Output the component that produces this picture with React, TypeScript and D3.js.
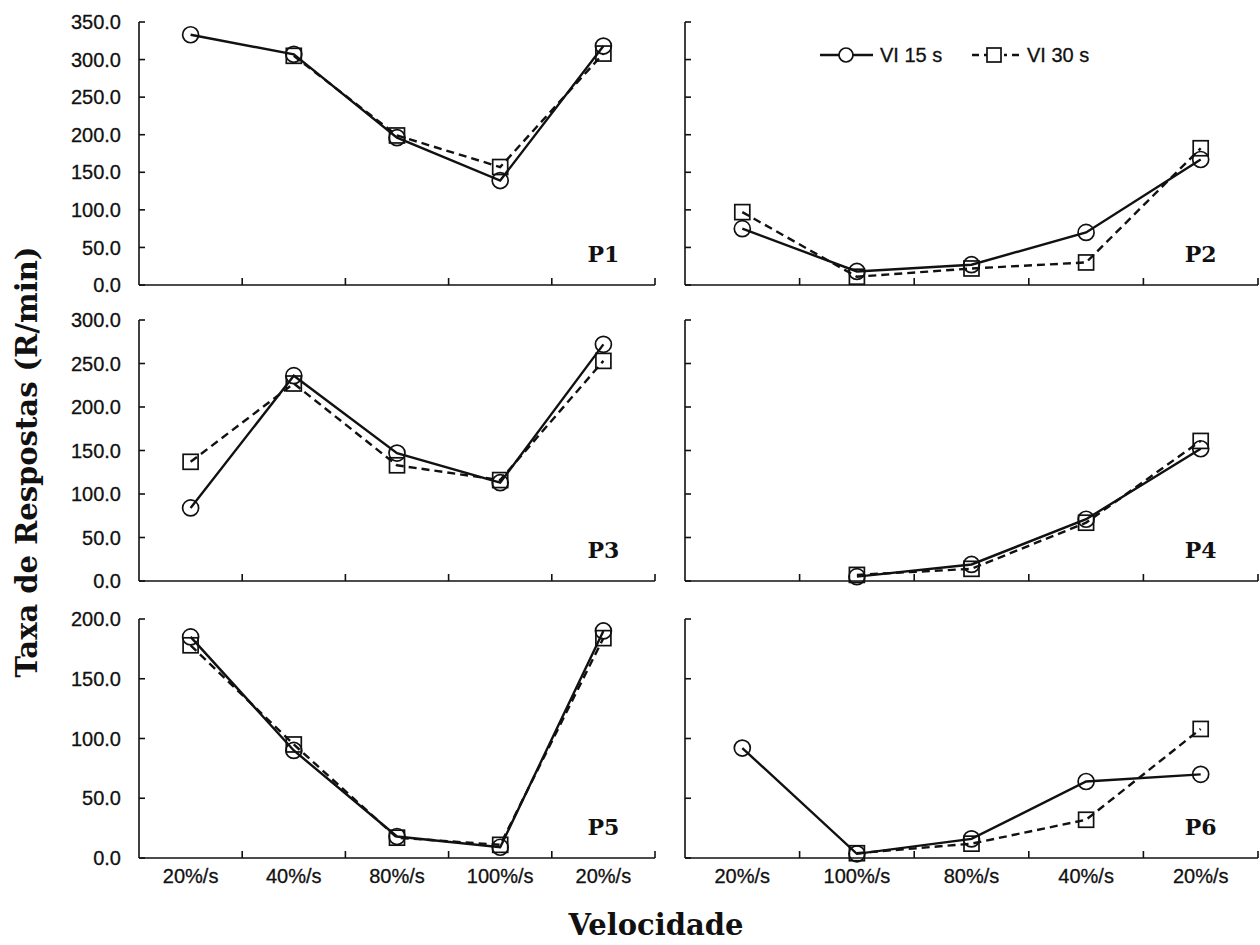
import React from 'react';
import * as d3 from 'd3';

const width = 1260;
const height = 945;

const leftCats = ['20%/s', '40%/s', '80%/s', '100%/s', '20%/s'];
const rightCats = ['20%/s', '100%/s', '80%/s', '40%/s', '20%/s'];

const p1Vi15 = [333, 307, 196, 139, 318];
const p1Vi30 = [null, 305, 199, 157, 308];
const p2Vi15 = [75, 18, 27, 70, 167];
const p2Vi30 = [97, 11, 22, 30, 182];
const p3Vi15 = [84, 236, 147, 113, 272];
const p3Vi30 = [137, 227, 133, 116, 253];
const p4Vi15 = [null, 5, 19, 71, 152];
const p4Vi30 = [null, 7, 14, 67, 161];
const p5Vi15 = [185, 90, 18, 9, 190];
const p5Vi30 = [178, 95, 17, 11, 184];
const p6Vi15 = [92, 3.5, 16, 64, 70];
const p6Vi30 = [null, 4, 12, 32, 108];

const rowMax = [350, 300, 200];
const seriesNames = ['VI 15 s', 'VI 30 s'];

const rows = [
  { top: 22, bottom: 285 },
  { top: 320, bottom: 581 },
  { top: 619, bottom: 858 },
];
const cols = [
  { left: 139, right: 655, cats: leftCats },
  { left: 685, right: 1258, cats: rightCats },
];

const panels = [
  { name: 'P1', row: 0, col: 0, vi15: p1Vi15, vi30: p1Vi30 },
  { name: 'P2', row: 0, col: 1, vi15: p2Vi15, vi30: p2Vi30 },
  { name: 'P3', row: 1, col: 0, vi15: p3Vi15, vi30: p3Vi30 },
  { name: 'P4', row: 1, col: 1, vi15: p4Vi15, vi30: p4Vi30 },
  { name: 'P5', row: 2, col: 0, vi15: p5Vi15, vi30: p5Vi30 },
  { name: 'P6', row: 2, col: 1, vi15: p6Vi15, vi30: p6Vi30 },
];

const sans = 'Liberation Sans, Arial, sans-serif';
const serif = 'DejaVu Serif, Liberation Serif, serif';
const ink = '#111';

const Panel = ({ p }: { p: any }) => {
  const r = rows[p.row];
  const c = cols[p.col];
  const x = d3.scaleBand<number>().domain(d3.range(5)).range([c.left, c.right]);
  const y = d3.scaleLinear().domain([0, rowMax[p.row]]).range([r.bottom, r.top]);
  const cx = (i: number) => (x(i) as number) + x.bandwidth() / 2;
  const line = d3
    .line<number | null>()
    .defined(d => d != null)
    .x((d, i) => cx(i))
    .y(d => y(d as number));
  const ticks = d3.range(0, rowMax[p.row] + 1, 50);
  const pts = (arr: (number | null)[]) =>
    arr.map((v, i) => ({ v, i })).filter(d => d.v != null) as { v: number; i: number }[];

  return (
    <g>
      {/* axes */}
      <line x1={c.left} x2={c.left} y1={r.top} y2={r.bottom} stroke={ink} strokeWidth={1.6} />
      <line x1={c.left} x2={c.right} y1={r.bottom} y2={r.bottom} stroke={ink} strokeWidth={1.6} />
      {ticks.map(t => (
        <g key={t}>
          <line x1={c.left} x2={c.left + 6} y1={y(t)} y2={y(t)} stroke={ink} strokeWidth={1.6} />
          {p.col === 0 && (
            <text x={c.left - 18} y={y(t)} dy="0.36em" textAnchor="end" fontSize={20} fontFamily={sans} fill="#111" stroke="#111" strokeWidth={0.3}>
              {t.toFixed(1)}
            </text>
          )}
        </g>
      ))}
      {d3.range(1, 6).map(i => {
        const xx = i < 5 ? (x(i) as number) : c.right;
        return <line key={i} x1={xx} x2={xx} y1={r.bottom} y2={r.bottom - 7} stroke={ink} strokeWidth={1.6} />;
      })}
      {p.row === 2 &&
        c.cats.map((lab, i) => (
          <text key={i} x={cx(i)} y={r.bottom + 25} textAnchor="middle" fontSize={20} fontFamily={sans} fill="#111" stroke="#111" strokeWidth={0.3}>
            {lab}
          </text>
        ))}

      {/* series */}
      <path d={line(p.vi30) || ''} fill="none" stroke={ink} strokeWidth={2.4} strokeDasharray="8,5" />
      <path d={line(p.vi15) || ''} fill="none" stroke={ink} strokeWidth={2.4} />
      {pts(p.vi30).map(d => (
        <rect key={'s' + d.i} x={cx(d.i) - 7.5} y={y(d.v) - 7.5} width={15} height={15} fill="none" stroke={ink} strokeWidth={1.7} />
      ))}
      {pts(p.vi15).map(d => (
        <circle key={'c' + d.i} cx={cx(d.i)} cy={y(d.v)} r={8} fill="none" stroke={ink} strokeWidth={1.7} />
      ))}

      <text x={cx(4)} y={r.bottom - 23} textAnchor="middle" fontSize={22} fontWeight="bold" fontFamily={serif} fill={ink}>
        {p.name}
      </text>
    </g>
  );
};

const App = () => {
  return (
    <svg width={width} height={height} style={{ position: 'absolute', left: 0, top: 0, background: '#fff' }}>
      <rect width={width} height={height} fill="#fff" />
      {panels.map(p => (
        <Panel key={p.name} p={p} />
      ))}

      {/* legend */}
      <g>
        <line x1={820} x2={873} y1={55} y2={55} stroke={ink} strokeWidth={2.4} />
        <circle cx={846} cy={55} r={7} fill="#fff" stroke={ink} strokeWidth={1.7} />
        <text x={880} y={55} dy="0.36em" fontSize={20} fontFamily={sans} fill="#111" stroke="#111" strokeWidth={0.3}>
          {seriesNames[0]}
        </text>
        <line x1={972} x2={1022} y1={55} y2={55} stroke={ink} strokeWidth={2.4} strokeDasharray="7,5,3,5" />
        <rect x={987} y={48} width={14} height={14} fill="#fff" stroke={ink} strokeWidth={1.7} />
        <text x={1027} y={55} dy="0.36em" fontSize={20} fontFamily={sans} fill="#111" stroke="#111" strokeWidth={0.3}>
          {seriesNames[1]}
        </text>
      </g>

      <text x={656} y={935} textAnchor="middle" fontSize={29} fontWeight="bold" fontFamily={serif} fill={ink}>
        Velocidade
      </text>
      <text
        transform="translate(37,462) rotate(-90)"
        textAnchor="middle"
        fontSize={29}
        fontWeight="bold"
        fontFamily={serif}
        fill={ink}
      >
        Taxa de Respostas (R/min)
      </text>
    </svg>
  );
};

export default App;
